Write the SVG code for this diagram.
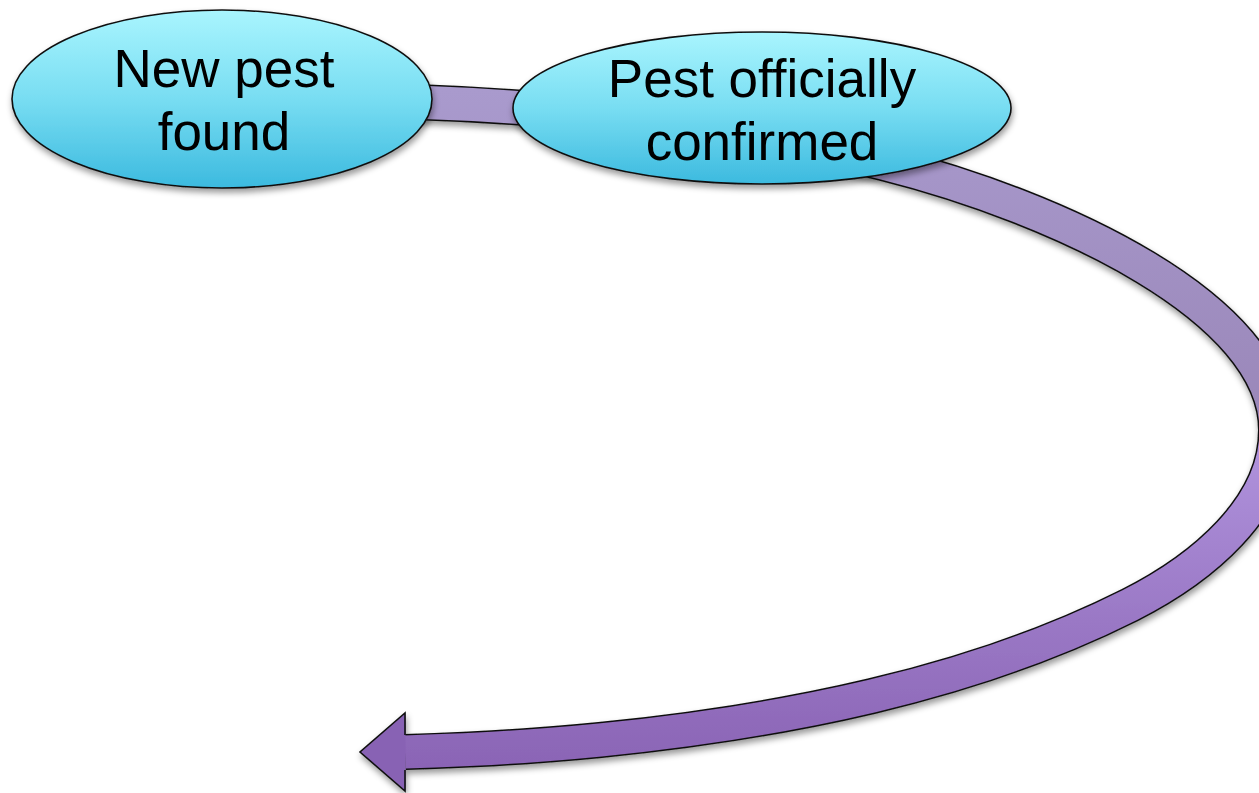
<svg xmlns="http://www.w3.org/2000/svg" width="1259" height="793" viewBox="0 0 1259 793">
<defs>
<style>
.lbl{font-family:"Liberation Sans",Arial,sans-serif;font-size:53px;fill:#000;text-anchor:middle}
.node{stroke:#111;stroke-width:1.6;fill:url(#cy)}
</style>
<linearGradient id="cy" x1="0" y1="0" x2="0" y2="1">
<stop offset="0" stop-color="#A9F5FE"/>
<stop offset="0.5" stop-color="#78DDF2"/>
<stop offset="1" stop-color="#3CBADF"/>
</linearGradient>
<linearGradient id="pu" gradientUnits="userSpaceOnUse" x1="0" y1="90" x2="0" y2="790">
<stop offset="0" stop-color="#A99ACD"/>
<stop offset="0.47" stop-color="#9A87B9"/>
<stop offset="0.5" stop-color="#B093DD"/>
<stop offset="0.76" stop-color="#9A78C5"/>
<stop offset="1" stop-color="#8861B3"/>
</linearGradient>
<filter id="sh" x="-10%" y="-10%" width="130%" height="130%">
<feDropShadow dx="1" dy="4" stdDeviation="3" flood-color="#000" flood-opacity="0.4"/>
</filter>
</defs>
<g id="connectors" filter="url(#sh)">
<path d="M300 100 C494 100 695 116 883 163 C1058 207 1276 308 1276 430 C1276 508 1201 569 1130 605 C969 686 779 722 600 740 C535 746.5 470 750 405 752" fill="none" stroke="#111" stroke-width="36"/>
<path d="M300 100 C494 100 695 116 883 163 C1058 207 1276 308 1276 430 C1276 508 1201 569 1130 605 C969 686 779 722 600 740 C535 746.5 470 750 405 752" fill="none" stroke="url(#pu)" stroke-width="33"/>
<polygon points="405.5,713 360,752 405.5,791" fill="#8862B4"/>
<polyline points="405,735 405,713 360,752 405,791 405,770" fill="none" stroke="#111" stroke-width="1.6" stroke-linejoin="miter"/>
</g>
<g id="node1" filter="url(#sh)">
<ellipse class="node" cx="222" cy="99" rx="210" ry="89"/>
<text class="lbl" x="224" y="87">New pest</text>
<text class="lbl" x="224" y="150">found</text>
</g>
<g id="node2" filter="url(#sh)">
<ellipse class="node" cx="762" cy="108" rx="249" ry="76"/>
<text class="lbl" x="762" y="97">Pest officially</text>
<text class="lbl" x="762" y="160">confirmed</text>
</g>
</svg>
